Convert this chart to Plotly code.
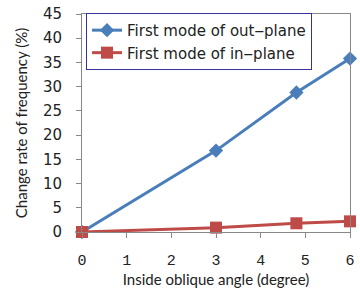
import plotly.graph_objects as go

angles_out = [0, 3, 4.8, 6]
out_plane = [0, 16.8, 28.8, 35.8]
angles_in = [0, 3, 4.8, 6]
in_plane = [0, 0.9, 1.8, 2.2]
x_ticks = [0, 1, 2, 3, 4, 5, 6]
y_ticks = [0, 5, 10, 15, 20, 25, 30, 35, 40, 45]

fig = go.Figure()
fig.add_trace(go.Scatter(
    x=angles_out, y=out_plane, mode="lines+markers",
    name="First mode of out\u2012plane",
    line=dict(color="#4a7ebb", width=3),
    marker=dict(symbol="diamond", size=11, color="#4a7ebb"),
    cliponaxis=False))
fig.add_trace(go.Scatter(
    x=angles_in, y=in_plane, mode="lines+markers",
    name="First mode of in\u2012plane",
    line=dict(color="#be4b48", width=3),
    marker=dict(symbol="square", size=12, color="#be4b48"),
    cliponaxis=False))

fig.update_layout(
    width=360, height=291,
    margin=dict(l=82, r=5, t=12, b=59),
    paper_bgcolor="white", plot_bgcolor="white",
    font=dict(family="DejaVu Sans", size=14, color="#222"),
    legend=dict(x=0.015, y=1.005, xanchor="left", yanchor="top",
                bordercolor="#33339a", borderwidth=1,
                bgcolor="white", font=dict(size=15),
                tracegroupgap=0, itemwidth=30),
    showlegend=True,
)
fig.update_xaxes(range=[0, 6], tickvals=x_ticks, ticks="outside", ticklen=5,
                 tickcolor="#888", showline=True, linecolor="#888", mirror=True,
                 showgrid=False, zeroline=False,
                 tickfont=dict(size=15, family="Liberation Mono"),
                 ticklabelstandoff=9,
                 title=dict(text="Inside oblique angle (degree)",
                            font=dict(size=15, family="Lato"), standoff=2))
fig.update_yaxes(range=[0, 45], tickvals=y_ticks, ticks="outside", ticklen=5,
                 tickcolor="#888", showline=True, linecolor="#888", mirror=True,
                 showgrid=False, zeroline=False,
                 tickfont=dict(size=15, family="DejaVu Sans"),
                 ticklabelstandoff=11,
                 title=dict(text="Change rate of frequency (%)",
                            font=dict(size=15, family="Lato"), standoff=11))

fig.write_html("out.html", config={"displayModeBar": False},
               post_script="document.body.style.margin='0';document.body.style.overflow='hidden';")
